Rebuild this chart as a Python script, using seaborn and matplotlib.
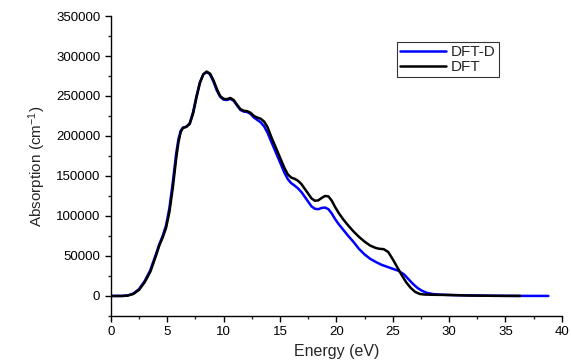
import numpy as np
import pandas as pd
import matplotlib
matplotlib.use("Agg")
import matplotlib.pyplot as plt
from matplotlib.ticker import MultipleLocator
import seaborn as sns

# Energy (eV) and absorption (cm^-1)
energy_dft = [0, 1.0, 1.5, 2.0, 2.5, 3.0, 3.5, 4.0, 4.3, 4.6,
              4.9, 5.2, 5.5, 5.8, 6.0, 6.2, 6.4, 6.7, 7.0, 7.3,
              7.6, 7.9, 8.2, 8.5, 8.8, 9.1, 9.4, 9.7, 10.0, 10.3,
              10.6, 10.9, 11.2, 11.5, 11.8, 12.1, 12.4, 12.7, 13.0, 13.3,
              13.6, 13.9, 14.2, 14.5, 14.8, 15.1, 15.4, 15.7, 16.0, 16.3,
              16.6, 16.9, 17.2, 17.5, 17.8, 18.1, 18.4, 18.7, 19.0, 19.3,
              19.6, 19.9, 20.2, 20.6, 21.0, 21.5, 22.0, 22.5, 23.0, 23.5,
              23.8, 24.2, 24.6, 25.0, 25.4, 25.8, 26.2, 26.6, 27.0, 27.4,
              27.8, 28.5, 30, 31, 32, 34, 36.3]
absorb_dft = [0, 0, 500, 2500, 7500, 17000, 30000, 50000, 63000, 73000,
              85000, 105000, 135000, 172000, 192000, 205000, 210000, 211500, 215000, 228000,
              248000, 266000, 277000, 280500, 278000, 270000, 259000, 250000, 246500, 246000,
              247500, 245000, 239000, 233500, 231500, 231000, 229000, 225000, 223000, 221500,
              218000, 211000, 200000, 190000, 180000, 170000, 160000, 152000, 148000, 146500,
              144000, 140000, 134000, 128000, 122000, 119000, 119500, 122500, 125000, 124500,
              119000, 111000, 104000, 96000, 89000, 81000, 74000, 68000, 63000, 60000,
              59000, 58500, 55000, 46000, 36000, 26000, 17000, 10000, 5000, 2500,
              1800, 1500, 1200, 800, 500, 150, 0]

energy_dftd = [0, 1.0, 1.5, 2.0, 2.5, 3.0, 3.5, 4.0, 4.3, 4.6,
               4.9, 5.2, 5.5, 5.8, 6.0, 6.2, 6.4, 6.7, 7.0, 7.3,
               7.6, 7.9, 8.2, 8.5, 8.8, 9.1, 9.4, 9.7, 10.0, 10.3,
               10.6, 10.9, 11.2, 11.5, 11.8, 12.1, 12.4, 12.7, 13.0, 13.3,
               13.6, 13.9, 14.2, 14.5, 14.8, 15.1, 15.4, 15.7, 16.0, 16.3,
               16.6, 16.9, 17.2, 17.5, 17.8, 18.1, 18.4, 18.7, 19.0, 19.3,
               19.6, 19.9, 20.2, 20.6, 21.0, 21.5, 22.0, 22.5, 23.0, 23.5,
               24.0, 24.5, 25.0, 25.5, 26.0, 26.4, 26.8, 27.2, 27.6, 28.0,
               28.5, 29, 30, 32, 35, 38.8]
absorb_dftd = [0, 0, 600, 3000, 8500, 18500, 32000, 52000, 64500, 75000,
               88000, 110000, 142000, 178000, 196000, 206500, 210500, 211500, 216000, 230000,
               250000, 267000, 277000, 280000, 277000, 268000, 257000, 249000, 245500, 245000,
               246500, 244000, 238000, 232500, 230500, 230000, 227500, 223000, 220000, 217000,
               212000, 204000, 194000, 184000, 174000, 164000, 154000, 146000, 141000, 138000,
               134500, 130000, 124000, 118000, 112000, 109000, 108500, 110000, 110500, 108500,
               103000, 96000, 90000, 83000, 76000, 68000, 59000, 52000, 46500, 42500,
               39000, 36500, 34000, 31500, 27000, 21000, 15000, 10000, 6500, 4000,
               2500, 1800, 1200, 600, 150, 0]

series_order = ["DFT-D", "DFT"]
series_colors = {"DFT-D": "#0000ff", "DFT": "#000000"}

df = pd.concat([
    pd.DataFrame({"Energy": energy_dftd, "Absorption": absorb_dftd, "Method": "DFT-D"}),
    pd.DataFrame({"Energy": energy_dft, "Absorption": absorb_dft, "Method": "DFT"}),
], ignore_index=True)

sns.set_style("ticks")
plt.rcParams["font.family"] = ["Liberation Sans", "DejaVu Sans"]
plt.rcParams["mathtext.default"] = "regular"

fig = plt.figure(figsize=(5.71, 3.64), dpi=100)
ax = fig.add_axes([0.194, 0.132, 0.79, 0.824])

# DFT-D first so the black DFT curve sits on top
sns.lineplot(data=df, x="Energy", y="Absorption", hue="Method",
             hue_order=series_order, palette=series_colors,
             linewidth=1.8, ax=ax, estimator=None)

ax.set_xlim(0, 40)
ax.set_ylim(-25000, 350000)
ax.xaxis.set_major_locator(MultipleLocator(5))
ax.xaxis.set_minor_locator(MultipleLocator(2.5))
ax.yaxis.set_minor_locator(MultipleLocator(25000))
ax.set_yticks(np.arange(0, 350001, 50000))
ax.tick_params(which="major", direction="out", length=4, width=1,
               labelsize=9.5, colors="black")
ax.tick_params(which="minor", direction="out", length=2.5, width=1)
for s in ["left", "bottom"]:
    ax.spines[s].set_linewidth(1)
    ax.spines[s].set_color("black")
sns.despine(ax=ax)

ax.set_xlabel("Energy (eV)", fontsize=11.5, labelpad=4)
ax.set_ylabel("Absorption (cm$^{-1}$)", fontsize=11, labelpad=6)

leg = ax.legend(loc="upper left", bbox_to_anchor=(0.634, 0.913),
                borderaxespad=0, fontsize=11, frameon=True, fancybox=False,
                handlelength=3.0, handletextpad=0.35, borderpad=0.2,
                labelspacing=0.05)
leg.get_frame().set_edgecolor("black")
leg.get_frame().set_linewidth(0.8)
leg.set_title(None)

fig.savefig("out.png", dpi=100)
